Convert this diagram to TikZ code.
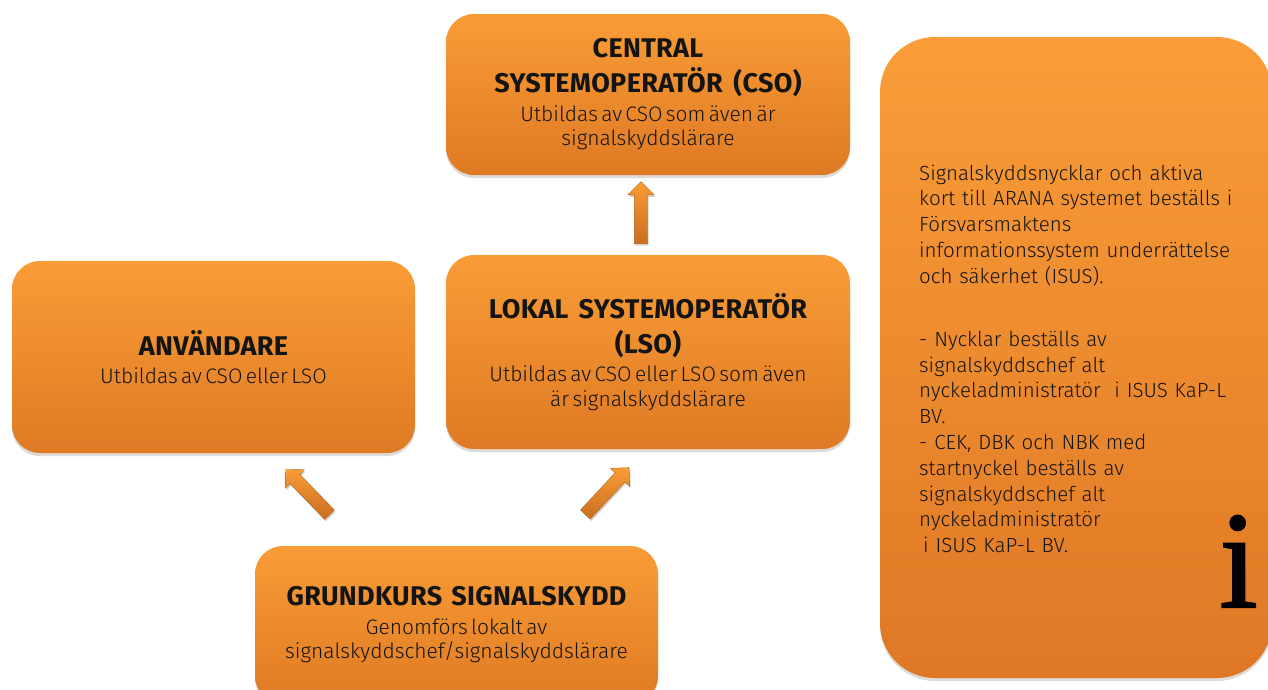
\documentclass[tikz,border=0pt]{standalone}
\usepackage{fontspec}
\usetikzlibrary{shapes.arrows,shadows}
\setmainfont{Fira Sans}
\newfontfamily\titlefont{Fira Sans}[LetterSpace=1.2]
\IfFontExistsTF{Fira Sans Light}{\newfontfamily\bodyfont{Fira Sans Light}}{\newfontfamily\bodyfont{Fira Sans}}
\newfontfamily\serifi{Liberation Serif}[FakeBold=1.5]
\definecolor{boxTop}{HTML}{F99C36}
\definecolor{boxMid}{HTML}{F6922F}
\definecolor{boxBot}{HTML}{DF7A24}
\definecolor{panTop}{HTML}{FA9D38}
\definecolor{panBot}{HTML}{DF7825}
\definecolor{txt}{HTML}{141414}
\definecolor{shadowc}{HTML}{5A4A40}
\tikzset{
  box/.style={rounded corners=28pt, top color=boxTop, middle color=boxMid, bottom color=boxBot,
    inner sep=0pt, text width=392pt, align=center, text=txt,
    drop shadow={shadow xshift=0pt, shadow yshift=-3pt, opacity=0.2, fill=shadowc}},
  panel/.style={rounded corners=55pt, top color=panTop, bottom color=panBot, inner sep=0pt,
    drop shadow={shadow xshift=0pt, shadow yshift=-3pt, opacity=0.2, fill=shadowc}},
  blockarrow/.style={single arrow, single arrow head extend=6.5pt, minimum width=26pt,
    inner xsep=0pt, inner ysep=6.5pt, top color=boxTop, bottom color=boxBot!90!black,
    draw=boxBot!80!black, line width=0.4pt,
    drop shadow={shadow xshift=1pt, shadow yshift=-2pt, opacity=0.25, fill=shadowc}},
}
\newcommand{\ttlf}{\titlefont\bfseries\fontsize{27}{35}\selectfont\spaceskip=6.5pt plus 2pt minus 1pt\relax}
\newcommand{\bdyf}{\bodyfont\fontsize{21}{24.5}\selectfont}
\begin{document}
\begin{tikzpicture}[x=1pt,y=-1pt]
\useasboundingbox (0,0) rectangle (1268,689);
\fill[white] (0,0) rectangle (1268,689);

% boxes
\node[box, minimum width=404pt, minimum height=161pt] (cso) at (648,94.5)
  {{\ttlf CENTRAL\\SYSTEMOPERATÖR (CSO)\par}\vspace{4pt}{\bdyf Utbildas av CSO som även är\\signalskyddslärare\par}};
\node[box, minimum width=404pt, minimum height=194pt] (lso) at (648,352)
  {{\ttlf LOKAL SYSTEMOPERATÖR\\(LSO)\par}\vspace{4pt}{\bdyf Utbildas av CSO eller LSO som även\\är signalskyddslärare\par}};
\node[box, minimum width=403pt, minimum height=192pt] (anv) at (213.5,357)
  {{\ttlf ANVÄNDARE\par}\vspace{4pt}{\bdyf Utbildas av CSO eller LSO\par}};
\node[box, minimum width=403pt, minimum height=158pt] (grund) at (456.5,625)
  {{\ttlf GRUNDKURS SIGNALSKYDD\par}\vspace{4pt}{\bdyf Genomförs lokalt av\\signalskyddschef/signalskyddslärare\par}};

% arrows
\node[blockarrow, minimum height=62pt, rotate=90] (aup) at (641,216) {};
\node[blockarrow, minimum height=63pt, rotate=134] (aleft) at (310,494.5) {};
\node[blockarrow, minimum height=64pt, rotate=47] (aright) at (605,493.5) {};

% info panel
\node[panel, minimum width=392pt, minimum height=641pt] (info) at (1076,357.5) {};
\node[anchor=base west, inner sep=0pt, text width=345pt, align=left, text=txt,
      font=\bodyfont\fontsize{20.5}{25.8}\selectfont] (infotext) at (919,180)
 {Signalskyddsnycklar och aktiva\\
  kort till ARANA systemet beställs i\\
  Försvarsmaktens\\
  informationssystem underrättelse\\
  och säkerhet (ISUS).\\[37.2pt]
  - Nycklar beställs av\\
  signalskyddschef alt\\
  nyckeladministratör\ \ i ISUS KaP-L\\
  BV.\\
  - CEK, DBK och NBK med\\
  startnyckel beställs av\\
  signalskyddschef alt\\
  nyckeladministratör\\
  \hspace*{4pt}i ISUS KaP-L BV.};
\node[anchor=base east, inner sep=0pt, text=black,
      font=\serifi\fontsize{138}{138}\selectfont] (ibig) at (1258,607) {i};
\end{tikzpicture}
\end{document}
